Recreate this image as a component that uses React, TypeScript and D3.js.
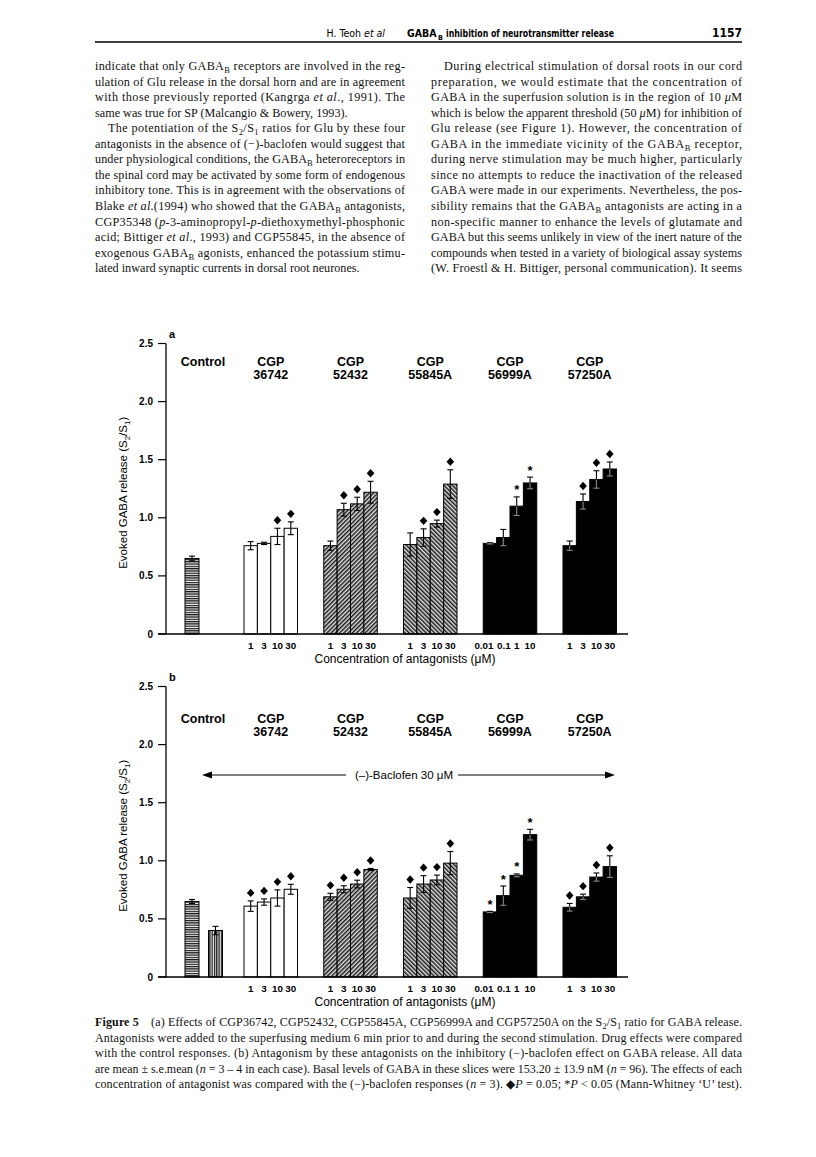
import React from 'react';
import * as d3 from 'd3';

// ---------------- DATA ----------------
const groupNames = ["36742", "52432", "55845A", "56999A", "57250A"];
const concLabels = [
  ["1", "3", "10", "30"],
  ["1", "3", "10", "30"],
  ["1", "3", "10", "30"],
  ["0.01", "0.1", "1", "10"],
  ["1", "3", "10", "30"],
];
const yTicks = [0, 0.5, 1, 1.5, 2, 2.5];
const yTickLabels = ["0", "0.5", "1.0", "1.5", "2.0", "2.5"];
const controlNames = ["Control", "Baclofen"];

// panel a
const controlA = [0.65];
const controlErrA = [0.02];
const meansA = [
  [0.76, 0.78, 0.84, 0.91],
  [0.76, 1.07, 1.12, 1.22],
  [0.77, 0.83, 0.95, 1.29],
  [0.78, 0.83, 1.10, 1.30],
  [0.76, 1.14, 1.33, 1.42],
];
const errA = [
  [0.035, 0.01, 0.07, 0.055],
  [0.04, 0.055, 0.057, 0.094],
  [0.10, 0.075, 0.03, 0.123],
  [0.005, 0.07, 0.08, 0.05],
  [0.04, 0.065, 0.075, 0.06],
];
const sigA = [
  ["", "", "d", "d"],
  ["", "d", "d", "d"],
  ["", "d", "d", "d"],
  ["", "", "*", "*"],
  ["", "d", "d", "d"],
];

// panel b
const controlB = [0.65, 0.40];
const controlErrB = [0.017, 0.036];
const meansB = [
  [0.61, 0.645, 0.68, 0.755],
  [0.69, 0.755, 0.80, 0.925],
  [0.68, 0.80, 0.835, 0.98],
  [0.56, 0.70, 0.875, 1.225],
  [0.60, 0.69, 0.86, 0.95],
];
const errB = [
  [0.045, 0.027, 0.07, 0.043],
  [0.03, 0.03, 0.033, 0.009],
  [0.09, 0.072, 0.042, 0.10],
  [0.005, 0.083, 0.012, 0.046],
  [0.033, 0.023, 0.035, 0.093],
];
const sigB = [
  ["d", "d", "d", "d"],
  ["d", "d", "d", "d"],
  ["d", "d", "d", "d"],
  ["*", "*", "*", "*"],
  ["d", "d", "d", "d"],
];

// ---------------- TEXT ----------------
const headerAuthor = "H. Teoh {i:et al}";
const headerTitleMain = "GABA";
const headerTitleSub = "B";
const headerTitleRest = "inhibition of neurotransmitter release";
const headerPage = "1157";

const leftLines = [
  { t: "indicate that only GABA{s:B} receptors are involved in the reg-", j: true },
  { t: "ulation of Glu release in the dorsal horn and are in agreement", j: true },
  { t: "with those previously reported (Kangrga {i:et al}., 1991). The", j: true },
  { t: "same was true for SP (Malcangio & Bowery, 1993).", j: false },
  { t: "The potentiation of the S{s:2}/S{s:1} ratios for Glu by these four", j: true, ind: true },
  { t: "antagonists in the absence of (−)-baclofen would suggest that", j: true },
  { t: "under physiological conditions, the GABA{s:B} heteroreceptors in", j: true },
  { t: "the spinal cord may be activated by some form of endogenous", j: true },
  { t: "inhibitory tone. This is in agreement with the observations of", j: true },
  { t: "Blake {i:et al}.(1994) who showed that the GABA{s:B} antagonists,", j: true },
  { t: "CGP35348 ({i:p}-3-aminopropyl-{i:p}-diethoxymethyl-phosphonic", j: true },
  { t: "acid; Bittiger {i:et al}., 1993) and CGP55845, in the absence of", j: true },
  { t: "exogenous GABA{s:B} agonists, enhanced the potassium stimu-", j: true },
  { t: "lated inward synaptic currents in dorsal root neurones.", j: false },
];

const rightLines = [
  { t: "During electrical stimulation of dorsal roots in our cord", j: true, ind: true },
  { t: "preparation, we would estimate that the concentration of", j: true },
  { t: "GABA in the superfusion solution is in the region of 10 {i:μ}M", j: true },
  { t: "which is below the apparent threshold (50 {i:μ}M) for inhibition of", j: true },
  { t: "Glu release (see Figure 1). However, the concentration of", j: true },
  { t: "GABA in the immediate vicinity of the GABA{s:B} receptor,", j: true },
  { t: "during nerve stimulation may be much higher, particularly", j: true },
  { t: "since no attempts to reduce the inactivation of the released", j: true },
  { t: "GABA were made in our experiments. Nevertheless, the pos-", j: true },
  { t: "sibility remains that the GABA{s:B} antagonists are acting in a", j: true },
  { t: "non-specific manner to enhance the levels of glutamate and", j: true },
  { t: "GABA but this seems unlikely in view of the inert nature of the", j: true },
  { t: "compounds when tested in a variety of biological assay systems", j: true },
  { t: "(W. Froestl & H. Bittiger, personal communication). It seems", j: true },
];

const captionLines = [
  { t: "{b:Figure 5}\u2002\u2002(a) Effects of CGP36742, CGP52432, CGP55845A, CGP56999A and CGP57250A on the S{s:2}/S{s:1} ratio for GABA release.", j: true },
  { t: "Antagonists were added to the superfusing medium 6 min prior to and during the second stimulation. Drug effects were compared", j: true },
  { t: "with the control responses. (b) Antagonism by these antagonists on the inhibitory (−)-baclofen effect on GABA release. All data", j: true },
  { t: "are mean ± s.e.mean ({i:n} = 3 – 4 in each case). Basal levels of GABA in these slices were 153.20 ± 13.9 nM ({i:n} = 96). The effects of each", j: true },
  { t: "concentration of antagonist was compared with the (−)-baclofen responses ({i:n} = 3). ◆{i:P} = 0.05; *{i:P} < 0.05 (Mann-Whitney ‘U’ test).", j: true },
];

const xTitle = "Concentration of antagonists (μM)";
const baclofenLabel = "(–)-Baclofen 30 μM";

// ---------------- helpers ----------------
type Seg = { t: string; i?: boolean; b?: boolean; s?: boolean };
function parse(str: string): Seg[] {
  const out: Seg[] = [];
  const re = /\{(i|s|b):([^}]*)\}/g;
  let last = 0;
  let m: RegExpExecArray | null;
  while ((m = re.exec(str)) !== null) {
    if (m.index > last) out.push({ t: str.slice(last, m.index) });
    out.push({ t: m[2], i: m[1] === 'i', b: m[1] === 'b', s: m[1] === 's' });
    last = m.index + m[0].length;
  }
  if (last < str.length) out.push({ t: str.slice(last) });
  return out;
}

function Rich({ str, size, subShift = 3 }: { str: string; size: number; subShift?: number }) {
  const segs = parse(str);
  let prevSub = false;
  return (
    <>
      {segs.map((sg, k) => {
        let dy: number | undefined;
        if (sg.s && !prevSub) dy = subShift;
        else if (!sg.s && prevSub) dy = -subShift;
        prevSub = !!sg.s;
        return (
          <tspan
            key={k}
            dy={dy}
            fontStyle={sg.i ? 'italic' : undefined}
            fontWeight={sg.b ? 'bold' : undefined}
            fontSize={sg.s ? size * 0.7 : undefined}
          >
            {sg.t}
          </tspan>
        );
      })}
    </>
  );
}

const serif = "'Liberation Serif', 'Times New Roman', Times, serif";
const sans = "'Liberation Sans', Arial, Helvetica, sans-serif";
const narrow = "'Liberation Sans Narrow', 'DejaVu Sans Condensed', 'Liberation Sans', sans-serif";

function TextBlock({ lines, x, w, y0, step, size }: any) {
  return (
    <g fontFamily={serif} fontSize={size} fill="#111">
      {lines.map((ln: any, k: number) => {
        const xs = ln.ind ? x + 13 : x;
        const ws = ln.ind ? w - 13 : w;
        return (
          <text key={k} x={xs} y={y0 + k * step} textLength={ln.j ? ws : undefined} lengthAdjust="spacing">
            <Rich str={ln.t} size={size} />
          </text>
        );
      })}
    </g>
  );
}

const groupFill = ['#ffffff', 'url(#hatchR)', 'url(#hatchL)', '#000000', '#000000'];
const controlFill = ['url(#hstripe)', 'url(#vstripe)'];

function Panel(props: any) {
  const { y0, yTop, ctrl, ctrlErr, means, errs, sigs, letter, catY, baclofen } = props;
  const axisX = 166;
  const axisEnd = 628;
  const y = d3.scaleLinear().domain([0, 2.5]).range([y0, yTop]);
  const xG = d3.scaleBand<string>().domain(groupNames).range([244, 616.5]).paddingInner(0.329);
  const xI = d3.scaleBand<number>().domain(d3.range(4)).range([0, xG.bandwidth()]);
  const xC = d3.scaleBand<string>().domain(controlNames).range([185, 222.5]).paddingInner(0.404);

  const bars: any[] = [];
  ctrl.forEach((v: number, i: number) => {
    const x0 = xC(controlNames[i])!;
    bars.push({ key: 'c' + i, x: x0, w: xC.bandwidth(), v, e: ctrlErr[i], fill: controlFill[i], sig: '', dark: false });
  });
  means.forEach((row: number[], g: number) => {
    row.forEach((v, i) => {
      const x0 = xG(groupNames[g])! + xI(i)!;
      bars.push({ key: `g${g}-${i}`, x: x0, w: xI.bandwidth(), v, e: errs[g][i], fill: groupFill[g], sig: sigs[g][i], dark: g >= 3 });
    });
  });

  const midY = (y0 + yTop) / 2;
  const labShift: Record<string, number> = { '0.01': -6, '0.1': 0.5 };

  return (
    <g>
      {bars.map((b) => (
        <rect key={b.key} x={b.x} y={y(b.v)} width={b.w} height={y0 - y(b.v)} fill={b.fill} stroke="#000" strokeWidth={1} />
      ))}
      {bars.map((b) => {
        const cx = b.x + b.w / 2;
        const t = y(b.v + b.e);
        const bt = y(b.v - b.e);
        const inner = b.dark ? '#8a8a8a' : '#000';
        return (
          <g key={'e' + b.key} strokeWidth={1.1}>
            <line x1={cx} x2={cx} y1={t} y2={y(b.v)} stroke="#000" />
            <line x1={cx - 3} x2={cx + 3} y1={t} y2={t} stroke="#000" />
            <line x1={cx} x2={cx} y1={y(b.v)} y2={bt} stroke={inner} />
            <line x1={cx - 3} x2={cx + 3} y1={bt} y2={bt} stroke={inner} />
          </g>
        );
      })}
      {bars.map((b) => {
        const cx = b.x + b.w / 2;
        const t = y(b.v + b.e);
        if (b.sig === 'd') {
          const cy = t - 8;
          return <path key={'s' + b.key} d={`M${cx},${cy - 4.2}L${cx + 3.8},${cy}L${cx},${cy + 4.2}L${cx - 3.8},${cy}Z`} fill="#000" />;
        }
        if (b.sig === '*') {
          return (
            <text key={'s' + b.key} x={cx} y={t - 2.5} textAnchor="middle" fontFamily={sans} fontSize={13} fontWeight="bold">*</text>
          );
        }
        return null;
      })}
      <line x1={axisX} x2={axisX} y1={y0} y2={yTop} stroke="#000" strokeWidth={1.3} />
      <line x1={axisX - 8} x2={axisEnd} y1={y0} y2={y0} stroke="#000" strokeWidth={1.3} />
      {yTicks.map((v, i) => (
        <g key={'t' + i}>
          <line x1={axisX - 8} x2={axisX} y1={y(v)} y2={y(v)} stroke="#000" strokeWidth={1.2} />
          <text x={axisX - 13} y={y(v)} dy="0.35em" textAnchor="end" fontFamily={sans} fontSize={10} fontWeight="bold">{yTickLabels[i]}</text>
        </g>
      ))}
      <text x={axisX + 3} y={yTop - 6} fontFamily={sans} fontSize={11} fontWeight="bold">{letter}</text>
      {concLabels.map((row, g) =>
        row.map((lab, i) => (
          <text key={`l${g}-${i}`} x={xG(groupNames[g])! + xI(i)! + xI.bandwidth() / 2 + (labShift[lab] || 0)} y={y0 + 14.5}
            textAnchor="middle" fontFamily={sans} fontSize={9.8} fontWeight="bold">{lab}</text>
        ))
      )}
      <text x={405} y={y0 + 29} textAnchor="middle" fontFamily={sans} fontSize={12}>{xTitle}</text>
      <text transform={`translate(127,${midY + 4}) rotate(-90)`} textAnchor="middle" fontFamily={sans} fontSize={11.5}>
        Evoked GABA release (S<tspan fontSize={8} dy={2.5}>2</tspan><tspan dy={-2.5}>/S</tspan><tspan fontSize={8} dy={2.5}>1</tspan><tspan dy={-2.5}>)</tspan>
      </text>
      <g fontFamily={sans} fontSize={12.5} fontWeight="bold" textAnchor="middle">
        <text x={203} y={catY}>Control</text>
        {groupNames.map((g) => (
          <g key={'cat' + g}>
            <text x={xG(g)! + xG.bandwidth() / 2} y={catY}>CGP</text>
            <text x={xG(g)! + xG.bandwidth() / 2} y={catY + 13}>{g}</text>
          </g>
        ))}
      </g>
      {baclofen && (
        <g>
          <line x1={210} x2={346} y1={775} y2={775} stroke="#000" strokeWidth={1.1} />
          <line x1={458} x2={607} y1={775} y2={775} stroke="#000" strokeWidth={1.1} />
          <path d="M202,775L212,771.5L212,778.5Z" fill="#000" />
          <path d="M615,775L605,771.5L605,778.5Z" fill="#000" />
          <text x={404} y={779} textAnchor="middle" fontFamily={sans} fontSize={11.5}>{baclofenLabel}</text>
        </g>
      )}
    </g>
  );
}

export default function App() {
  return (
    <svg width={816} height={1157} viewBox="0 0 816 1157" style={{ position: 'absolute', left: 0, top: 0, background: '#fff' }}>
      <defs>
        <pattern id="hstripe" patternUnits="userSpaceOnUse" width={4} height={2.3}>
          <rect width={4} height={2.3} fill="#e8e8e8" />
          <rect width={4} height={1.2} fill="#1a1a1a" />
        </pattern>
        <pattern id="vstripe" patternUnits="userSpaceOnUse" width={2.3} height={4}>
          <rect width={2.3} height={4} fill="#e0e0e0" />
          <rect width={1.2} height={4} fill="#1a1a1a" />
        </pattern>
        <pattern id="hatchR" patternUnits="userSpaceOnUse" width={3} height={3} patternTransform="rotate(45)">
          <rect width={3} height={3} fill="#e0e0e0" />
          <rect width={1.5} height={3} fill="#1a1a1a" />
        </pattern>
        <pattern id="hatchL" patternUnits="userSpaceOnUse" width={3} height={3} patternTransform="rotate(-45)">
          <rect width={3} height={3} fill="#e0e0e0" />
          <rect width={1.5} height={3} fill="#1a1a1a" />
        </pattern>
      </defs>
      <rect width={816} height={1157} fill="#fff" />

      {/* header */}
      <text x={385} y={37} textAnchor="end" fontFamily={narrow} fontSize={10.5}>
        <Rich str={headerAuthor} size={10.5} />
      </text>
      <text x={407} y={37} fontFamily={narrow} fontSize={10.5} fontWeight="bold">{headerTitleMain}</text>
      <text x={438} y={39.5} fontFamily={narrow} fontSize={7} fontWeight="bold">{headerTitleSub}</text>
      <text x={446} y={37} fontFamily={narrow} fontSize={10.5} fontWeight="bold" textLength={168} lengthAdjust="spacingAndGlyphs">{headerTitleRest}</text>
      <text x={742} y={37} fontFamily={narrow} fontSize={12} fontWeight="bold" textAnchor="end">{headerPage}</text>
      <line x1={95} x2={742} y1={42} y2={42} stroke="#000" strokeWidth={1.3} />

      {/* body text */}
      <TextBlock lines={leftLines} x={95} w={310} y0={70} step={15.55} size={12.2} />
      <TextBlock lines={rightLines} x={431} w={311} y0={70} step={15.55} size={12.2} />

      {/* panels */}
      <Panel y0={634} yTop={343.5} ctrl={controlA} ctrlErr={controlErrA} means={meansA} errs={errA} sigs={sigA}
        letter="a" catY={366} baclofen={false} />
      <Panel y0={977} yTop={686.5} ctrl={controlB} ctrlErr={controlErrB} means={meansB} errs={errB} sigs={sigB}
        letter="b" catY={723} baclofen={true} />

      {/* caption */}
      <TextBlock lines={captionLines} x={95} w={647} y0={1026} step={15.6} size={12} />
    </svg>
  );
}
